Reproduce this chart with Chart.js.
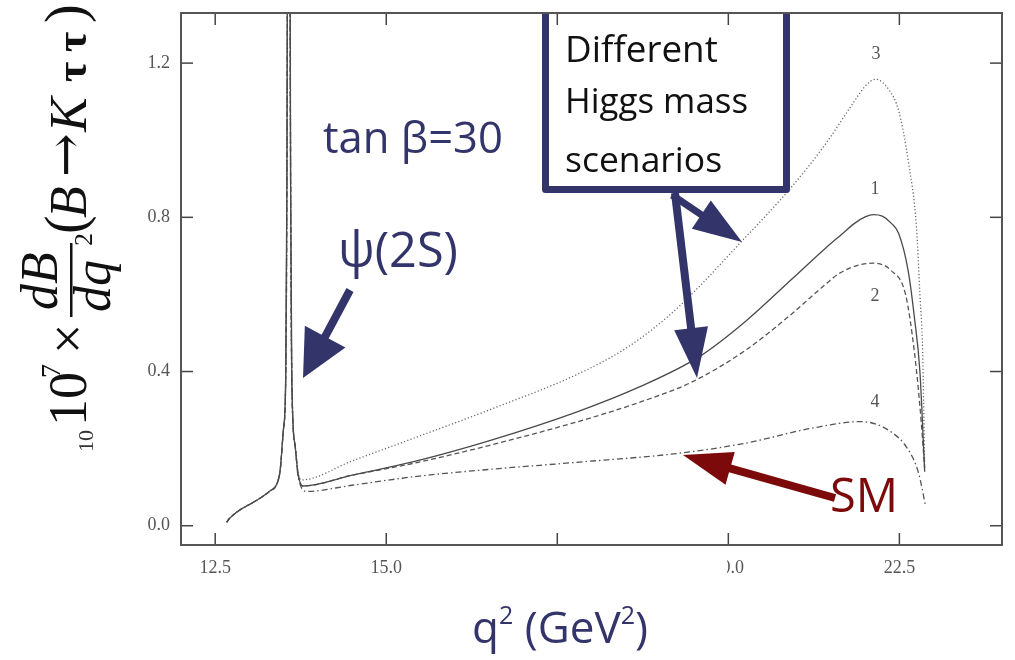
<!DOCTYPE html>
<html>
<head>
<meta charset="utf-8">
<script src="https://cdn.jsdelivr.net/npm/chart.js@4.4.1/dist/chart.umd.min.js"></script>
<style>
  html, body { margin: 0; padding: 0; background: #fff; }
</style>
</head>
<body>
<canvas id="chart" width="1015" height="660"></canvas>
<script>
// ─── Data ────────────────────────────────────────
// shared part: threshold rise + psi(2S) spike
const q2Low = [12.67, 12.70, 12.75, 12.86, 13.00, 13.16, 13.30, 13.40, 13.45, 13.496, 13.53, 13.548, 13.562, 13.575, 13.588, 13.602, 13.62, 13.67];
const bLow  = [0.009, 0.017, 0.026, 0.041, 0.055, 0.072, 0.090, 0.108, 0.145, 0.248, 0.377, 0.90, 2.0, 4.0, 2.0, 0.90, 0.377, 0.205];

// curve 1 (solid)
const q2Solid = [13.71, 13.78, 14.5, 15.4, 16.5, 17.8, 18.7, 19.57, 20.25, 20.93, 21.42, 21.65, 21.85, 22.0, 22.12, 22.25, 22.38, 22.49, 22.63, 22.72, 22.8, 22.87];
const bSolid  = [0.135, 0.103, 0.131, 0.166, 0.22, 0.296, 0.36, 0.438, 0.53, 0.64, 0.72, 0.755, 0.785, 0.801, 0.807, 0.803, 0.785, 0.758, 0.66, 0.54, 0.40, 0.14];

// curve 2 (dashed)
const q2Dash = [13.71, 13.78, 14.5, 15.4, 16.5, 17.8, 18.7, 19.47, 20.25, 20.93, 21.2, 21.42, 21.6, 21.8, 21.95, 22.12, 22.38, 22.59, 22.72, 22.8, 22.87];
const bDash  = [0.135, 0.103, 0.131, 0.162, 0.208, 0.27, 0.32, 0.373, 0.455, 0.55, 0.592, 0.626, 0.652, 0.67, 0.678, 0.681, 0.662, 0.60, 0.45, 0.31, 0.15];

// curve 3 (dotted)
const q2Dot = [13.71, 13.76, 14.5, 15.4, 16.5, 17.82, 18.5, 19.1, 19.6, 20.18, 20.5, 20.93, 21.42, 21.8, 22.0, 22.15, 22.35, 22.49, 22.63, 22.75, 22.8, 22.84, 22.87];
const bDot  = [0.14, 0.119, 0.168, 0.227, 0.30, 0.395, 0.46, 0.54, 0.625, 0.735, 0.795, 0.88, 0.99, 1.09, 1.14, 1.158, 1.13, 1.076, 0.946, 0.773, 0.60, 0.45, 0.15];

// curve 4 (dash-dot, SM)
const q2DashDot = [13.71, 13.84, 14.5, 15.4, 16.5, 17.82, 19.28, 20.25, 21.22, 21.94, 22.34, 22.63, 22.78, 22.88];
const bDashDot  = [0.13, 0.089, 0.105, 0.127, 0.146, 0.165, 0.188, 0.214, 0.253, 0.27, 0.248, 0.197, 0.137, 0.054];

const xTicks = [12.5, 15.0, 17.5, 20.0, 22.5];
const xTickLabels = ['12.5', '15.0', '', '20.0', '22.5'];
const yTicks = [0.0, 0.4, 0.8, 1.2];
const yTickLabels = ['0.0', '0.4', '0.8', '1.2'];

const SERIF = '"Liberation Serif", "DejaVu Serif", serif';
const HAND = '"Open Sans", "Noto Sans", sans-serif';
const NAVY = '#33356a';
const DARKRED = '#7d0a0a';

function toPoints(xs, ys) {
  return xs.map((x, i) => ({ x, y: ys[i] }));
}

function curve(xs, ys, color, dash, width) {
  return {
    data: toPoints(q2Low.concat(xs), bLow.concat(ys)),
    borderColor: color,
    borderWidth: width,
    borderDash: dash,
    pointRadius: 0,
    fill: false,
    cubicInterpolationMode: 'monotone',
  };
}

// ─── Helpers ─────────────────────────────────────
function arrow(ctx, x0, y0, x1, y1, shaft, headLen, headHalf, color) {
  const dx = x1 - x0, dy = y1 - y0;
  const len = Math.hypot(dx, dy);
  const ux = dx / len, uy = dy / len;
  const bx = x1 - ux * headLen, by = y1 - uy * headLen;
  ctx.save();
  ctx.strokeStyle = color;
  ctx.fillStyle = color;
  ctx.lineWidth = shaft;
  ctx.lineCap = 'butt';
  ctx.beginPath();
  ctx.moveTo(x0, y0);
  ctx.lineTo(bx + ux * 2, by + uy * 2);
  ctx.stroke();
  ctx.beginPath();
  ctx.moveTo(x1, y1);
  ctx.lineTo(bx - uy * headHalf, by + ux * headHalf);
  ctx.lineTo(bx + uy * headHalf, by - ux * headHalf);
  ctx.closePath();
  ctx.fill();
  ctx.restore();
}

function fitText(ctx, text, x, y, width, family, weight) {
  ctx.font = `${weight} 40px ${family}`;
  const size = 40 * width / ctx.measureText(text).width;
  ctx.font = `${weight} ${size.toFixed(1)}px ${family}`;
  ctx.fillText(text, x, y);
}

// ─── Plugins ─────────────────────────────────────
const frameTicks = {
  id: 'frameTicks',
  afterDatasetsDraw(chart) {
    const { ctx, chartArea: a, scales: { x, y } } = chart;
    ctx.save();

    // annotation box (runs off the top of the picture)
    ctx.save();
    ctx.beginPath();
    ctx.rect(0, a.top, chart.width, chart.height);
    ctx.clip();
    ctx.fillStyle = '#fff';
    ctx.fillRect(545, 0, 242, 190);
    ctx.strokeStyle = NAVY;
    ctx.lineWidth = 7;
    ctx.lineJoin = 'round';
    ctx.strokeRect(545.5, -10, 241, 199.5);
    ctx.restore();

    ctx.strokeStyle = '#444';
    ctx.lineWidth = 1.5;
    const seg = (x0, y0, x1, y1) => { ctx.beginPath(); ctx.moveTo(x0, y0); ctx.lineTo(x1, y1); ctx.stroke(); };
    xTicks.forEach(v => {
      const p = x.getPixelForValue(v);
      seg(p, a.bottom, p, a.bottom - 12);
      seg(p, a.top, p, a.top + 12);
    });
    yTicks.forEach(v => {
      const p = y.getPixelForValue(v);
      seg(a.left, p, a.left + 12, p);
      seg(a.right, p, a.right - 12, p);
    });
    ctx.strokeStyle = '#555';
    ctx.lineWidth = 2;
    ctx.strokeRect(a.left, a.top, a.right - a.left, a.bottom - a.top);
    ctx.restore();
  },
};

const annotations = {
  id: 'annotations',
  afterDraw(chart) {
    const ctx = chart.ctx;
    ctx.save();
    ctx.textAlign = 'left';
    ctx.textBaseline = 'alphabetic';

    // part of the 20.0 label is hidden in the original
    ctx.fillStyle = '#fff';
    ctx.fillRect(705, 552, 22, 30);

    // curve numbers
    ctx.fillStyle = '#555';
    ctx.font = `18px ${SERIF}`;
    ctx.textAlign = 'center';
    ctx.fillText('3', 876, 59);
    ctx.fillText('1', 875, 194);
    ctx.fillText('2', 875, 301);
    ctx.fillText('4', 875, 407);
    ctx.textAlign = 'left';

    // navy labels
    ctx.fillStyle = NAVY;
    fitText(ctx, 'tan β=30', 323, 153, 180, HAND, 400);
    fitText(ctx, 'ψ(2S)', 338, 267, 120, HAND, 400);
    arrow(ctx, 350, 290, 303, 378, 8, 47, 23, NAVY);

    // box text
    ctx.fillStyle = '#111';
    fitText(ctx, 'Different', 565, 62, 153, HAND, 400);
    fitText(ctx, 'Higgs mass', 565, 113, 183, HAND, 400);
    fitText(ctx, 'scenarios', 565, 172, 157, HAND, 400);
    arrow(ctx, 672, 195, 742, 242, 7, 49, 17, NAVY);
    arrow(ctx, 675, 193, 697, 378, 8, 50, 17, NAVY);

    // SM
    ctx.fillStyle = DARKRED;
    fitText(ctx, 'SM', 830, 512, 68, HAND, 400);
    arrow(ctx, 835, 498, 683, 455, 8, 49, 17, DARKRED);

    // x title: q² (GeV²)
    ctx.fillStyle = NAVY;
    const big = `400 44px ${HAND}`, sup = `400 25px ${HAND}`;
    const parts = [['q', big, 0], ['2', sup, -19], [' (GeV', big, 0], ['2', sup, -19], [')', big, 0]];
    let total = 0;
    parts.forEach(p => { ctx.font = p[1]; total += ctx.measureText(p[0]).width; });
    let cx = 560 - total / 2;
    parts.forEach(p => { ctx.font = p[1]; ctx.fillText(p[0], cx, 643 + p[2]); cx += ctx.measureText(p[0]).width; });

    // y title: 10^7 × dB/dq² (B → K τ τ)
    ctx.save();
    ctx.translate(86, 426);
    ctx.rotate(-Math.PI / 2);
    ctx.fillStyle = '#111';
    ctx.font = `54px ${SERIF}`;
    ctx.fillText('10', 0, 0);
    ctx.font = `28px ${SERIF}`;
    ctx.fillText('7', 48, -26);
    ctx.font = `54px ${SERIF}`;
    ctx.fillText('×', 72, 0);
    ctx.fillRect(109, -16, 74, 2.5);
    ctx.font = `italic 52px ${SERIF}`;
    ctx.fillText('dB', 116, -29);
    ctx.fillText('dq', 114, 24);
    ctx.font = `26px ${SERIF}`;
    ctx.fillText('2', 180, 6);
    ctx.font = `56px ${SERIF}`;
    ctx.fillText('(', 192, -2);
    ctx.font = `italic 52px ${SERIF}`;
    ctx.fillText('B', 208, 0);
    ctx.font = `52px "DejaVu Serif", serif`;
    ctx.fillText('→', 249, -3);
    ctx.font = `italic 52px ${SERIF}`;
    ctx.fillText('K', 294, 0);
    ctx.font = `bold 44px ${SERIF}`;
    ctx.fillText('τ', 344, 0);
    ctx.fillText('τ', 374, 0);
    ctx.font = `56px ${SERIF}`;
    ctx.fillText(')', 403, -2);
    ctx.restore();

    // leftover of the original label
    ctx.save();
    ctx.translate(93, 452);
    ctx.rotate(-Math.PI / 2);
    ctx.fillStyle = '#333';
    ctx.font = `22px ${SERIF}`;
    ctx.fillText('10', 0, 0);
    ctx.restore();

    ctx.restore();
  },
};

// ─── Chart ───────────────────────────────────────
new Chart(document.getElementById('chart'), {
  type: 'line',
  data: {
    datasets: [
      curve(q2Solid, bSolid, '#4a4a4a', [], 1.3),
      curve(q2Dash, bDash, '#555', [5, 3], 1.3),
      curve(q2Dot, bDot, '#666', [1.2, 2.2], 1.3),
      curve(q2DashDot, bDashDot, '#555', [6, 3, 1.5, 3], 1.3),
    ],
  },
  options: {
    responsive: false,
    animation: false,
    layout: { padding: { left: 0, right: 13, top: 13, bottom: 0 } },
    plugins: { legend: { display: false }, tooltip: { enabled: false } },
    scales: {
      x: {
        type: 'linear',
        min: 12,
        max: 24,
        afterBuildTicks: s => { s.ticks = xTicks.map(v => ({ value: v })); },
        afterFit: s => { s.height = 115; s.paddingLeft = 0; s.paddingRight = 0; },
        grid: { display: false, drawTicks: false },
        border: { display: false },
        ticks: {
          padding: 12,
          color: '#555',
          font: { size: 18, family: SERIF },
          maxRotation: 0,
          autoSkip: false,
          callback: (v) => xTickLabels[xTicks.indexOf(v)] ?? '',
        },
      },
      y: {
        type: 'linear',
        min: -0.05,
        max: 1.33,
        afterBuildTicks: s => { s.ticks = yTicks.map(v => ({ value: v })); },
        afterFit: s => { s.width = 181; s.paddingTop = 0; s.paddingBottom = 0; },
        grid: { display: false, drawTicks: false },
        border: { display: false },
        ticks: {
          padding: 11,
          color: '#555',
          font: { size: 18, family: SERIF },
          autoSkip: false,
          callback: (v) => yTickLabels[yTicks.indexOf(v)] ?? '',
        },
      },
    },
  },
  plugins: [frameTicks, annotations],
});
</script>
</body>
</html>
